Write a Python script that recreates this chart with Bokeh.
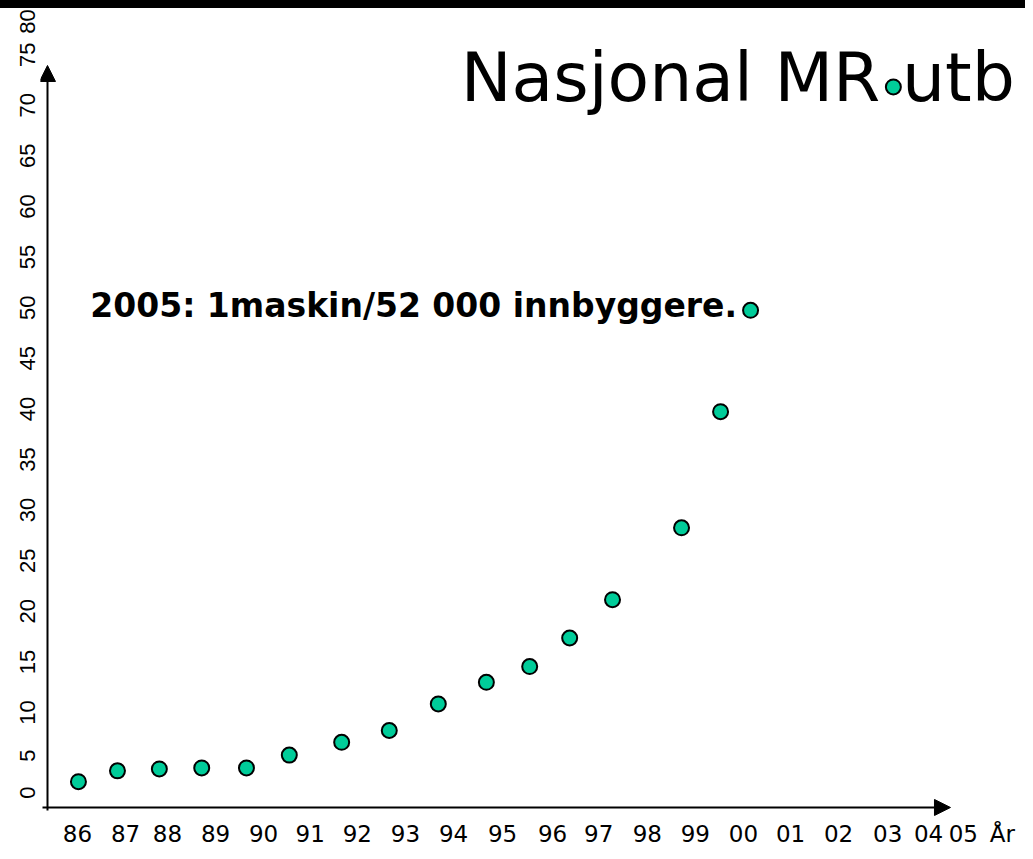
import math
from bokeh.plotting import figure
from bokeh.layouts import column
from bokeh.models import Range1d, FixedTicker, Label, Arrow, NormalHead, ColumnDataSource, Div
from bokeh.embed import file_html
from bokeh.resources import INLINE

# ---- data ----
point_year = [1986.02, 1986.84, 1987.72, 1988.61, 1989.55, 1990.45, 1991.55, 1992.55,
              1993.58, 1994.59, 1995.50, 1996.34, 1997.24, 1998.69, 1999.51, 2000.14, 2003.14]
point_value = [1.1, 2.2, 2.4, 2.5, 2.5, 3.8, 5.1, 6.3,
               9.0, 11.2, 12.8, 15.7, 19.6, 26.9, 38.7, 49.0, 71.7]

x_labels = ["86", "87", "88", "89", "90", "91", "92", "93", "94", "95",
            "96", "97", "98", "99", "00", "01", "02", "03", "04", "05", "År"]
x_label_pos = [1986.00, 1987.01, 1987.89, 1988.90, 1989.91, 1990.89, 1991.88, 1992.89,
               1993.90, 1994.93, 1995.98, 1996.95, 1997.97, 1998.98, 1999.99, 2000.98,
               2001.99, 2003.02, 2003.88, 2004.61, 2005.43]
# the vertical labels of the original are set as one rotated line of text,
# so their spacing follows the text widths rather than the values
y_labels = ["0", "5", "10", "15", "20", "25", "30", "35", "40",
            "45", "50", "55", "60", "65", "70", "75", "80"]
y_label_center = [0, 3.76, 8.13, 13.27, 18.41, 23.56, 28.70, 33.84, 38.98,
                  44.13, 49.27, 54.41, 59.55, 64.70, 69.84, 74.98, 78.35]

title_text = "Nasjonal MR utb"
note_text = "2005: 1maskin/52 000 innbyggere."

# ---- geometry helpers ----
Y0, Y1 = -2.64, 79.67          # y range
FRAME_H = 810                   # px between frame top and bottom
PX_PER_UNIT = FRAME_H / (Y1 - Y0)
YLAB_FONT = 22
# rotated left-axis labels are anchored at their end: shift the tick by half the text length
y_tick_pos = [c + 0.5 * len(s) * 0.556 * YLAB_FONT / PX_PER_UNIT
              for c, s in zip(y_label_center, y_labels)]

# ---- figure ----
p = figure(width=1025, height=843, output_backend="svg", toolbar_location=None,
           title_location=None,
           x_range=Range1d(1985.223, 2005.916), y_range=Range1d(Y0, Y1),
           min_border_left=40, min_border_right=0, min_border_top=0, min_border_bottom=33)
p.background_fill_color = "white"
p.border_fill_color = "white"
p.outline_line_color = None
p.xgrid.grid_line_color = None
p.ygrid.grid_line_color = None

# x axis
xa = p.xaxis[0]
xa.ticker = FixedTicker(ticks=x_label_pos)
xa.major_label_overrides = {pos: lab for pos, lab in zip(x_label_pos, x_labels)}
xa.axis_line_color = None
xa.major_tick_line_color = None
xa.minor_tick_line_color = None
xa.major_label_standoff = -4
xa.major_label_text_font = "DejaVu Sans"
xa.major_label_text_font_size = "23px"
xa.major_label_text_color = "black"

# y axis
ya = p.yaxis[0]
ya.ticker = FixedTicker(ticks=y_tick_pos)
ya.major_label_overrides = {pos: lab for pos, lab in zip(y_tick_pos, y_labels)}
ya.axis_line_color = None
ya.major_tick_line_color = None
ya.minor_tick_line_color = None
ya.major_label_orientation = math.pi / 2
ya.major_label_standoff = 7
ya.major_label_text_font = "Liberation Sans"
ya.major_label_text_font_size = f"{YLAB_FONT}px"
ya.major_label_text_color = "black"

# axis arrows
p.add_layout(Arrow(x_start=1985.37, y_start=-1.83, x_end=1985.37, y_end=73.88,
                   line_color="black", line_width=2,
                   end=NormalHead(size=16, fill_color="black", line_color="black")))
p.add_layout(Arrow(x_start=1985.265, y_start=-1.52, x_end=2004.34, y_end=-1.52,
                   line_color="black", line_width=2,
                   end=NormalHead(size=16, fill_color="black", line_color="black")))

# points
src = ColumnDataSource(dict(x=point_year, y=point_value))
p.scatter("x", "y", source=src, size=15, marker="circle",
          fill_color="#00CC99", line_color="black", line_width=2)

# texts
p.add_layout(Label(x=1994.05, y=72.7, text=title_text, text_font="DejaVu Sans",
                   text_font_size="68px", text_color="black", text_baseline="middle"))
p.add_layout(Label(x=1986.27, y=49.49, text=note_text, text_font="DejaVu Sans",
                   text_font_style="bold", text_font_size="33px", text_color="black",
                   text_baseline="middle"))

bar = Div(width=1025, height=8, margin=0, styles={"background-color": "black"})
layout = column(bar, p, spacing=0)

open("out.html", "w").write(file_html(layout, INLINE))
